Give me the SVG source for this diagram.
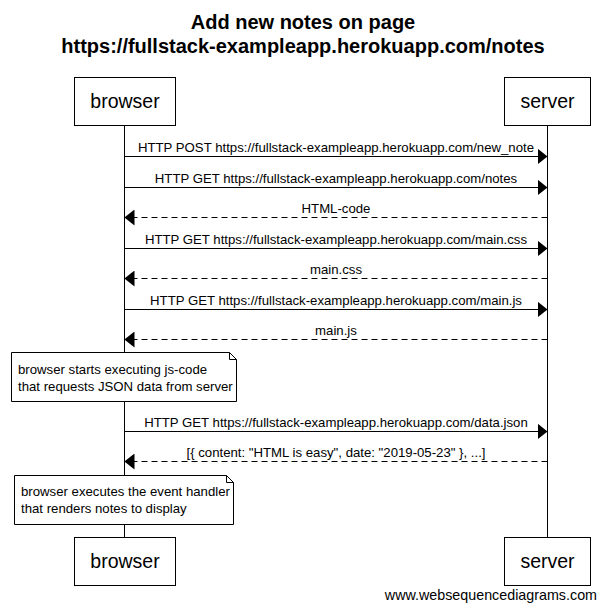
<svg xmlns="http://www.w3.org/2000/svg" width="605" height="611" viewBox="0 0 605 611">
<style>
text{font-family:"Liberation Sans",Arial,sans-serif;fill:#000}
.title{font-size:20px;font-weight:bold;text-anchor:middle}
.part{font-size:19.5px;text-anchor:middle}
.msg{font-size:13.2px;text-anchor:middle}
.note{font-size:13.2px}
.box{fill:#fff;stroke:#000;stroke-width:1}
.life{stroke:#000;stroke-width:1}
.solid{stroke:#000;stroke-width:1;fill:none}
.dash{stroke:#000;stroke-width:1;fill:none;stroke-dasharray:6,4}
.wm{font-size:14.3px;text-anchor:end}
</style>
<defs>
<marker id="ah" viewBox="0 0 10 16" refX="10" refY="8" markerWidth="10" markerHeight="16" markerUnits="userSpaceOnUse" orient="auto">
<path d="M0,0 L10,8 L0,16 Z" fill="#000"/>
</marker>
</defs>
<text class="title" x="303" y="29">Add new notes on page</text>
<text class="title" x="303" y="53">https://fullstack-exampleapp.herokuapp.com/notes</text>
<g id="lifelines">
<line class="life" x1="124.5" y1="125" x2="124.5" y2="537"/>
<line class="life" x1="547.5" y1="125" x2="547.5" y2="537"/>
</g>
<g id="connectors">
<line class="solid" x1="124.5" y1="156.5" x2="547.5" y2="156.5" marker-end="url(#ah)"/>
<text class="msg" x="336" y="152">HTTP POST https://fullstack-exampleapp.herokuapp.com/new_note</text>
<line class="solid" x1="124.5" y1="187.5" x2="547.5" y2="187.5" marker-end="url(#ah)"/>
<text class="msg" x="336" y="183">HTTP GET https://fullstack-exampleapp.herokuapp.com/notes</text>
<line class="dash" x1="547.5" y1="217.5" x2="124.5" y2="217.5" marker-end="url(#ah)"/>
<text class="msg" x="336" y="213">HTML-code</text>
<line class="solid" x1="124.5" y1="248.5" x2="547.5" y2="248.5" marker-end="url(#ah)"/>
<text class="msg" x="336" y="244">HTTP GET https://fullstack-exampleapp.herokuapp.com/main.css</text>
<line class="dash" x1="547.5" y1="278.5" x2="124.5" y2="278.5" marker-end="url(#ah)"/>
<text class="msg" x="336" y="274">main.css</text>
<line class="solid" x1="124.5" y1="309.5" x2="547.5" y2="309.5" marker-end="url(#ah)"/>
<text class="msg" x="336" y="305">HTTP GET https://fullstack-exampleapp.herokuapp.com/main.js</text>
<line class="dash" x1="547.5" y1="339.5" x2="124.5" y2="339.5" marker-end="url(#ah)"/>
<text class="msg" x="336" y="335">main.js</text>
<line class="solid" x1="124.5" y1="431.5" x2="547.5" y2="431.5" marker-end="url(#ah)"/>
<text class="msg" x="336" y="427">HTTP GET https://fullstack-exampleapp.herokuapp.com/data.json</text>
<line class="dash" x1="547.5" y1="461.5" x2="124.5" y2="461.5" marker-end="url(#ah)"/>
<text class="msg" x="336" y="457">[{ content: "HTML is easy", date: "2019-05-23" }, ...]</text>
</g>
<g id="note1">
<path class="box" d="M11.5,352.5 H229.5 L236.5,359.5 V401.5 H11.5 Z"/>
<path class="solid" d="M229.5,352.5 V359.5 H236.5" stroke="#888"/>
<text class="note" x="18" y="374">browser starts executing js-code</text>
<text class="note" x="18" y="391">that requests JSON data from server</text>
</g>
<g id="note2">
<path class="box" d="M14.5,475.5 H226.5 L233.5,482.5 V524.5 H14.5 Z"/>
<path class="solid" d="M226.5,475.5 V482.5 H233.5" stroke="#888"/>
<text class="note" x="21" y="496">browser executes the event handler</text>
<text class="note" x="21" y="513">that renders notes to display</text>
</g>
<g id="browser-top">
<rect class="box" x="74.5" y="77.5" width="101" height="48"/>
<text class="part" x="125" y="108">browser</text>
</g>
<g id="server-top">
<rect class="box" x="504.5" y="77.5" width="86" height="48"/>
<text class="part" x="547.5" y="108">server</text>
</g>
<g id="browser-bottom">
<rect class="box" x="74.5" y="537.5" width="101" height="48"/>
<text class="part" x="125" y="568">browser</text>
</g>
<g id="server-bottom">
<rect class="box" x="504.5" y="537.5" width="86" height="48"/>
<text class="part" x="547.5" y="568">server</text>
</g>
<text class="wm" x="597" y="600">www.websequencediagrams.com</text>
</svg>
